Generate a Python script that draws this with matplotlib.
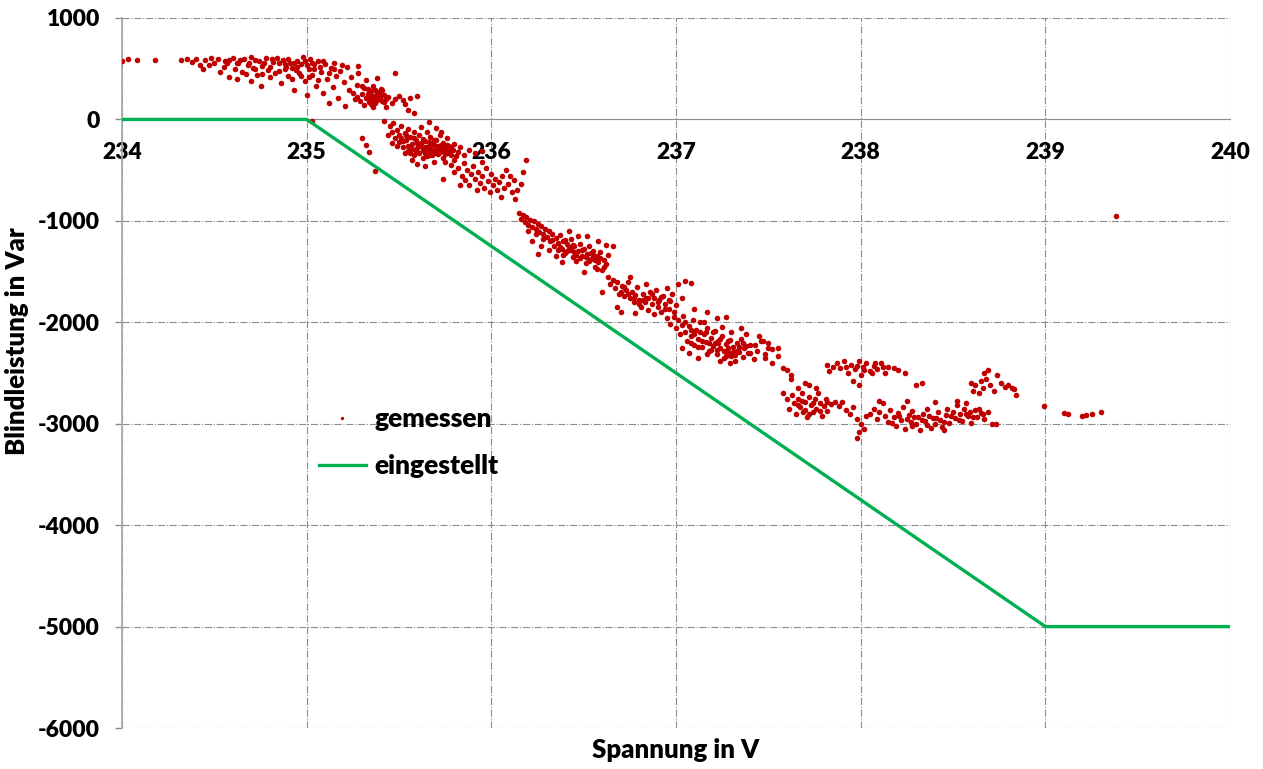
import numpy as np
import matplotlib
matplotlib.use('Agg')
import matplotlib.pyplot as plt

# eingestellte Kennlinie Q(U)
soll_v = [234, 235, 239, 240]
soll_q = [0, 0, -5000, -5000]

gem_start = [
    (234.00, 580), (234.03, 600), (234.08, 590), (234.18, 590), (234.32, 590), (234.35, 600),
    (234.38, 570), (234.40, 600), (234.42, 540), (234.44, 500), (234.45, 590), (234.48, 610),
    (234.50, 560), (234.52, 600), (234.55, 520), (234.56, 580), (234.58, 420), (234.60, 610),
    (234.62, 400), (234.63, 560), (234.65, 470), (234.66, 600), (234.68, 540), (234.70, 620),
    (234.70, 380), (234.72, 500), (234.74, 580), (234.75, 330), (234.76, 450), (234.78, 610),
    (234.80, 520), (234.80, 420), (234.82, 570), (234.84, 610), (234.85, 480), (234.86, 360),
    (234.88, 550), (234.90, 600), (234.90, 430), (234.92, 510), (234.93, 290), (234.95, 580),
    (234.96, 460), (234.98, 620), (234.99, 380), (235.00, 540), (235.00, 240), (235.02, 600),
    (235.03, 440), (235.04, 500), (235.05, 330), (235.06, 580), (235.08, 470), (235.09, 260),
    (235.10, 550), (235.11, 400), (235.12, 160), (235.13, 510), (235.14, 320), (235.15, 560),
    (235.16, 430), (235.17, 210), (235.18, 480), (235.20, 370), (235.21, 130), (235.22, 520),
    (235.23, 290), (235.24, 420), (235.26, 200), (235.27, 340), (235.28, 460), (235.30, 250),
    (235.31, 140), (235.32, 390), (235.33, 300), (235.34, 200), (235.35, 240), (235.36, 330),
    (235.37, 160), (235.38, 270), (235.39, 210), (235.40, 300), (235.41, 180), (235.42, 240),
    (235.43, 120), (235.44, 220), (235.46, 160), (235.48, 200), (235.50, 230), (235.52, 190),
    (235.53, 150), (235.55, 90), (235.56, 210), (235.58, 60), (235.60, 230), (235.48, 460),
    (235.38, 410), (235.28, 530), (234.47, 540), (234.53, 470), (234.57, 560), (234.61, 500),
    (234.64, 590), (234.67, 450), (234.69, 560), (234.71, 510), (234.73, 440), (234.77, 560),
    (234.79, 490), (234.81, 600), (234.83, 460), (234.87, 590), (234.89, 520), (234.91, 560),
    (234.94, 490), (234.97, 550), (235.01, 500), (235.03, 560), (235.07, 520), (235.09, 580),
    (235.12, 460), (235.15, 500), (235.19, 540), (235.01, 420), (234.97, 430), (234.92, 400),
    (235.06, 390), (235.25, 260), (235.29, 180), (235.33, 250), (235.35, 150), (235.37, 290),
    (235.40, 230), (235.27, 220), (235.31, 310), (235.36, 190), (235.42, 170), (235.03, -20),
    (235.30, -180), (235.32, -250), (235.34, -320), (235.37, -510),
]

gem_b = [
    (235.42, -20), (235.45, -60), (235.46, -120), (235.47, -40), (235.48, -180), (235.49, -100),
    (235.50, -150), (235.50, -220), (235.51, -60), (235.52, -270), (235.53, -130), (235.54, -200),
    (235.55, -90), (235.55, -310), (235.56, -170), (235.57, -240), (235.58, -120), (235.58, -350),
    (235.59, -200), (235.60, -280), (235.61, -150), (235.61, -330), (235.62, -230), (235.63, -190),
    (235.63, -380), (235.64, -270), (235.65, -120), (235.65, -320), (235.66, -220), (235.67, -290),
    (235.67, -170), (235.68, -350), (235.69, -250), (235.69, -420), (235.70, -300), (235.70, -200),
    (235.71, -340), (235.72, -260), (235.72, -150), (235.73, -310), (235.74, -380), (235.74, -230),
    (235.75, -290), (235.76, -330), (235.76, -180), (235.77, -260), (235.78, -350), (235.79, -300),
    (235.80, -240), (235.80, -400), (235.82, -320), (235.83, -270), (235.85, -350), (235.88, -300),
    (235.91, -330), (235.95, -310), (235.60, -440), (235.64, -460), (235.57, -400), (235.53, -330),
    (235.46, -230), (235.44, -150), (235.66, -30), (235.70, -80), (235.73, -120), (235.62, -70),
    (235.75, -420), (235.68, -300), (235.71, -260), (235.66, -260), (235.63, -300), (235.72, -320),
    (235.69, -330), (235.77, -310), (235.74, -280), (235.65, -360), (235.59, -320), (235.55, -260),
    (235.61, -250), (235.58, -180), (235.52, -210),
    (235.78, -450), (235.80, -520), (235.82, -480), (235.84, -560), (235.85, -430), (235.86, -600),
    (235.87, -500), (235.88, -650), (235.89, -540), (235.90, -460), (235.91, -590), (235.92, -700),
    (235.93, -520), (235.94, -630), (235.95, -560), (235.96, -680), (235.97, -480), (235.98, -610),
    (235.99, -720), (236.00, -540), (236.01, -650), (236.02, -590), (236.03, -700), (236.04, -620),
    (236.05, -760), (236.06, -560), (236.07, -680), (236.08, -500), (236.09, -640), (236.10, -560),
    (236.12, -600), (236.14, -700), (236.17, -520), (235.74, -590), (235.83, -650), (236.19, -400),
    (236.13, -780), (236.11, -720), (235.95, -420), (236.16, -640),
]

gem_c = [
    (236.15, -920), (236.16, -980), (236.17, -940), (236.18, -1010), (236.19, -960), (236.20, -1040),
    (236.21, -990), (236.22, -1060), (236.23, -1000), (236.24, -1080), (236.25, -1030), (236.26, -1110),
    (236.27, -1050), (236.28, -1130), (236.29, -1080), (236.30, -1160), (236.31, -1100), (236.32, -1200),
    (236.33, -1130), (236.34, -1250), (236.35, -1170), (236.36, -1220), (236.37, -1140), (236.38, -1280),
    (236.39, -1200), (236.40, -1320), (236.41, -1230), (236.42, -1100), (236.43, -1290), (236.44, -1360),
    (236.45, -1250), (236.46, -1400), (236.47, -1300), (236.48, -1230), (236.49, -1350), (236.50, -1280),
    (236.51, -1420), (236.52, -1330), (236.53, -1250), (236.54, -1380), (236.55, -1300), (236.56, -1450),
    (236.57, -1350), (236.58, -1410), (236.59, -1310), (236.60, -1480), (236.61, -1390), (236.62, -1430),
    (236.63, -1340), (236.22, -1200), (236.27, -1250), (236.31, -1290), (236.25, -1330), (236.35, -1350),
    (236.38, -1410), (236.43, -1180), (236.47, -1150), (236.52, -1150), (236.58, -1200), (236.62, -1240),
    (236.66, -1250), (236.57, -1470), (236.50, -1500), (236.39, -1340), (236.45, -1310), (236.53, -1400),
    (236.48, -1370), (236.42, -1260), (236.55, -1340),
]

gem_d = [
    (236.63, -1550), (236.64, -1620), (236.66, -1580), (236.67, -1660), (236.68, -1600), (236.70, -1700),
    (236.71, -1640), (236.72, -1740), (236.73, -1680), (236.74, -1600), (236.75, -1760), (236.76, -1700),
    (236.77, -1800), (236.78, -1730), (236.79, -1650), (236.80, -1780), (236.81, -1850), (236.82, -1720),
    (236.83, -1800), (236.84, -1760), (236.85, -1880), (236.86, -1700), (236.87, -1820), (236.88, -1760),
    (236.89, -1680), (236.90, -1850), (236.91, -1780), (236.92, -1900), (236.93, -1740), (236.94, -1820),
    (236.95, -1660), (236.96, -1870), (236.97, -1790), (236.98, -1720), (236.99, -1950), (237.00, -1830),
    (237.01, -1620), (237.03, -1760), (237.05, -1590), (237.08, -1610), (236.60, -1700), (236.68, -1850),
    (236.75, -1550), (236.84, -1620), (236.70, -1900), (236.78, -1910), (236.88, -1920),
]

gem_e = [
    (236.95, -1960), (236.97, -2020), (236.99, -1900), (237.00, -2060), (237.01, -1980), (237.02, -2120),
    (237.03, -2030), (237.04, -1940), (237.05, -2100), (237.06, -2180), (237.07, -2040), (237.08, -2140),
    (237.09, -1980), (237.10, -2220), (237.11, -2080), (237.12, -2160), (237.13, -2000), (237.14, -2240),
    (237.15, -2120), (237.16, -2190), (237.17, -2060), (237.18, -2280), (237.19, -2150), (237.20, -2230),
    (237.21, -2090), (237.22, -2310), (237.23, -2180), (237.24, -2250), (237.25, -2140), (237.26, -2350),
    (237.27, -2210), (237.28, -2290), (237.29, -2170), (237.30, -2330), (237.31, -2240), (237.32, -2380),
    (237.33, -2200), (237.34, -2290), (237.35, -2160), (237.36, -2340), (237.37, -2250), (237.38, -2120),
    (237.39, -2300), (237.40, -2220), (237.42, -2360), (237.44, -2280), (237.46, -2180), (237.48, -2310),
    (237.50, -2250), (237.52, -2400), (237.55, -2330), (237.58, -2450), (237.62, -2520), (237.07, -2300),
    (237.12, -2350), (237.03, -2250), (237.17, -1900), (237.22, -1960), (237.27, -1950), (237.10, -1870),
    (237.15, -2000), (237.20, -2100), (237.25, -2050), (237.30, -2100), (237.35, -2060), (237.24, -2380),
    (237.29, -2400), (237.18, -2200), (237.13, -2100), (237.08, -2200), (237.23, -2200), (237.28, -2250),
    (237.33, -2280), (237.38, -2230),
]

gem_f = [
    (237.45, -2140), (237.47, -2180), (237.50, -2200), (237.52, -2260), (237.48, -2350), (237.55, -2250),
    (237.58, -2700), (237.60, -2760), (237.61, -2850), (237.63, -2720), (237.64, -2800), (237.65, -2900),
    (237.66, -2760), (237.67, -2840), (237.68, -2700), (237.69, -2880), (237.70, -2790), (237.71, -2930),
    (237.72, -2740), (237.73, -2820), (237.74, -2880), (237.75, -2760), (237.76, -2850), (237.77, -2700),
    (237.78, -2800), (237.79, -2920), (237.80, -2830), (237.81, -2760), (237.82, -2870), (237.84, -2810),
    (237.86, -2790), (237.88, -2830), (237.90, -2790), (237.92, -2860), (237.94, -2900), (237.96, -2840),
    (237.98, -2950), (237.98, -3140), (237.99, -3080), (238.00, -3000), (238.02, -3050), (238.03, -2920),
    (237.62, -2560), (237.60, -2470), (237.66, -2650), (237.72, -2620), (237.76, -2650), (237.70, -2600),
    (237.82, -2420), (237.83, -2480), (237.87, -2400), (237.89, -2450), (237.91, -2380), (237.93, -2500),
    (237.95, -2420), (237.97, -2460), (237.99, -2380), (238.00, -2520), (238.01, -2440), (238.03, -2400),
    (238.05, -2480), (238.07, -2430), (238.09, -2460), (238.11, -2400), (238.13, -2500), (238.15, -2440),
    (238.18, -2450), (238.20, -2470), (238.24, -2500), (237.96, -2580), (237.99, -2620), (238.06, -2500),
    (238.10, -2780),
]

gem_g = [
    (238.05, -2900), (238.07, -2850), (238.09, -2950), (238.10, -2880), (238.12, -2800), (238.13, -2920),
    (238.15, -2980), (238.16, -2860), (238.18, -2930), (238.19, -3020), (238.20, -2890), (238.22, -2960),
    (238.23, -2840), (238.24, -3050), (238.26, -2910), (238.27, -2980), (238.28, -2870), (238.30, -3000),
    (238.31, -2930), (238.32, -3060), (238.34, -2900), (238.35, -2970), (238.36, -2850), (238.38, -3040),
    (238.39, -2940), (238.40, -3000), (238.42, -2880), (238.43, -2960), (238.44, -3030), (238.46, -2910),
    (238.47, -2850), (238.48, -2990), (238.50, -2880), (238.51, -2940), (238.52, -2820), (238.54, -2900),
    (238.55, -2970), (238.56, -2850), (238.58, -2920), (238.59, -2880), (238.60, -2990), (238.62, -2860),
    (238.63, -2930), (238.65, -2890), (238.67, -2950), (238.69, -2880), (238.71, -3000), (238.73, -3000),
    (238.33, -2600), (238.30, -2620), (238.52, -2780), (238.57, -2800), (238.40, -2790), (238.45, -3060),
    (238.25, -2780),
    (238.61, -2680), (238.62, -2620), (238.64, -2700), (238.65, -2580), (238.66, -2650), (238.67, -2500),
    (238.68, -2560), (238.69, -2470), (238.70, -2620), (238.72, -2680), (238.74, -2520), (238.76, -2600),
    (238.78, -2640), (238.80, -2620), (238.82, -2650), (238.83, -2660), (238.84, -2720), (238.60, -2600),
    (238.99, -2830), (239.10, -2890), (239.12, -2900), (239.20, -2920), (239.22, -2910), (239.25, -2900),
    (239.30, -2880), (239.38, -950),
]

# zusätzliche Punkte in den dichten Bereichen
gem_dicht = [
    (235.62, -260), (235.64, -210), (235.66, -300), (235.68, -240), (235.70, -330), (235.71, -280),
    (235.73, -250), (235.75, -340), (235.67, -350), (235.69, -200), (235.64, -330), (235.60, -230),
    (235.57, -290), (235.54, -150), (235.51, -180), (235.49, -260), (235.56, -330), (235.76, -250),
    (235.78, -280), (235.81, -360), (235.35, 280), (235.37, 230), (235.39, 260), (235.41, 290),
    (235.43, 200), (235.34, 170), (235.36, 120), (235.38, 190), (235.32, 210), (235.30, 330),
    (234.85, 560), (234.88, 500), (234.93, 560), (234.95, 520), (234.99, 580), (235.04, 550),
    (234.76, 530), (234.72, 590), (234.62, 560), (234.58, 590),
    (236.28, -1180), (236.33, -1190), (236.36, -1290), (236.41, -1300), (236.44, -1240), (236.46, -1340),
    (236.49, -1290), (236.51, -1360), (236.54, -1320), (236.56, -1390), (236.59, -1370), (236.61, -1450),
    (236.37, -1260), (236.40, -1190), (236.20, -1100), (236.24, -1130),
    (236.74, -1720), (236.77, -1760), (236.80, -1820), (236.82, -1780), (236.85, -1760), (236.87, -1720),
    (236.90, -1800), (236.92, -1750), (236.94, -1870), (236.96, -1780), (236.72, -1650), (236.69, -1720),
    (237.10, -2120), (237.14, -2180), (237.16, -2100), (237.19, -2270), (237.21, -2200), (237.24, -2160),
    (237.26, -2280), (237.28, -2180), (237.31, -2290), (237.34, -2240), (237.36, -2200), (237.05, -2000),
    (237.08, -2080), (237.12, -2240), (237.17, -2310), (237.22, -2270), (237.27, -2330), (237.32, -2320),
    (237.40, -2300), (237.43, -2220),
    (237.68, -2780), (237.70, -2860), (237.74, -2800), (237.78, -2870), (237.82, -2790), (237.66, -2820),
    (237.72, -2900),
    (238.25, -2950), (238.28, -3020), (238.33, -2960), (238.36, -3010), (238.41, -2940), (238.45, -2980),
    (238.49, -2920), (238.53, -2960), (238.57, -2900), (238.61, -2930), (238.64, -2850), (238.29, -2930),
    (238.37, -2920), (238.21, -2920), (238.17, -2990), (238.66, -2900),
    (237.85, -2440), (237.92, -2440), (237.98, -2430), (238.02, -2470), (238.08, -2400), (238.12, -2440),
]

gem = np.array(gem_start + gem_b + gem_c + gem_d + gem_e + gem_f + gem_g + gem_dicht)

plt.rcParams['font.family'] = ['Lato', 'DejaVu Sans']
plt.rcParams['font.weight'] = 'heavy'
plt.rcParams['axes.unicode_minus'] = False

fig = plt.figure(figsize=(12.63, 7.69), dpi=100)
ax = fig.add_axes([0.0966, 0.0533, 0.8773, 0.9233])

ax.plot(gem[:, 0], gem[:, 1], 'o', color='#C00000', markersize=4.0,
        markeredgewidth=0, label='gemessen', zorder=3)
ax.plot(soll_v, soll_q, '-', color='#00B050', linewidth=2.4, label='eingestellt', zorder=4)

ax.set_xlim(234, 240)
ax.set_ylim(-6000, 1000)
ax.set_xticks(range(234, 241))
ax.set_yticks(range(-6000, 1001, 1000))

ax.grid(True, color='#8c8c8c', linestyle='-.', linewidth=0.8)
ax.set_axisbelow(True)

ax.spines['top'].set_visible(False)
ax.spines['right'].set_visible(False)
ax.spines['bottom'].set_position(('data', 0))
ax.spines['bottom'].set_color('#8c8c8c')
ax.spines['left'].set_color('#a6a6a6')
ax.spines['left'].set_linewidth(1.2)

ax.tick_params(axis='x', length=0, pad=16, labelsize=16.5)
ax.tick_params(axis='y', length=5, width=1, color='#8c8c8c', pad=11, labelsize=16.5)
for lab in ax.get_xticklabels() + ax.get_yticklabels():
    lab.set_fontweight('heavy')

ax.set_xlabel('Spannung in V', fontsize=18.5, fontweight='heavy')
ax.set_ylabel('Blindleistung in Var', fontsize=18.5, fontweight='heavy')
ax.xaxis.set_label_coords(0.5, -0.014)
ax.yaxis.set_label_coords(-0.084, 0.545)

leg = ax.legend(loc='upper left', bbox_to_anchor=(0.156, 0.485), frameon=False,
                prop={'size': 19, 'weight': 'heavy'}, handlelength=1.8,
                handletextpad=0.3, labelspacing=0.85, markerscale=0.6)

fig.savefig('out.png', dpi=100)
